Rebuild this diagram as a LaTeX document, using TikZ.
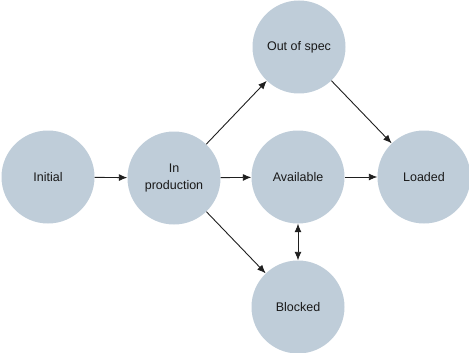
\documentclass[tikz,border=0pt]{standalone}
\usepackage{fontspec}
\setmainfont{Liberation Sans}
\usetikzlibrary{arrows.meta}
\definecolor{statefill}{HTML}{BFCDD9}
\definecolor{edgeink}{HTML}{1F1F1F}
\begin{document}
\begin{tikzpicture}[x=1pt,y=-1pt,
  state/.style={circle,fill=statefill,minimum size=93pt,inner sep=0pt,
    align=center,font=\fontsize{12.5}{17}\selectfont,text=black!90},
  flow/.style={draw=edgeink,line width=0.9pt,-{Latex[length=8.5pt,width=7pt]}},
  both/.style={draw=edgeink,line width=0.9pt,{Latex[length=8.5pt,width=7pt]}-{Latex[length=8.5pt,width=7pt]}}]
  \useasboundingbox (0,0) rectangle (469,353);
  \node[state] (init) at (48,177) {Initial};
  \node[state] (prod) at (174,178) {In\\production};
  \node[state] (spec) at (299,47) {Out of spec};
  \node[state] (avail) at (298,177) {Available};
  \node[state] (load) at (424,177) {Loaded};
  \node[state] (block) at (298,307) {Blocked};
  \draw[flow] (init) -- (prod);
  \draw[flow] (prod) -- (spec);
  \draw[flow] (prod) -- (avail);
  \draw[flow] (prod) -- (block);
  \draw[flow] (spec) -- (load);
  \draw[flow] (avail) -- (load);
  \draw[both] (avail) -- (block);
\end{tikzpicture}
\end{document}
